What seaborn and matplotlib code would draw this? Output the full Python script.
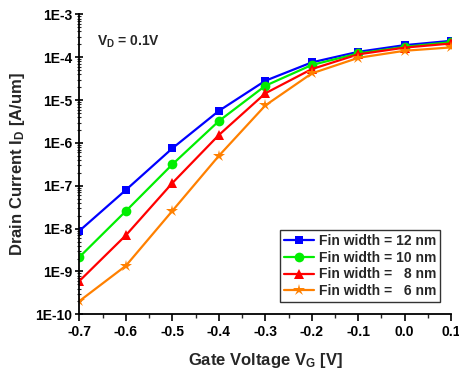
import numpy as np
import pandas as pd
import matplotlib
matplotlib.use("Agg")
import matplotlib.pyplot as plt
import matplotlib.ticker as mticker
import seaborn as sns

# ---- data ----
vg = [-0.7, -0.6, -0.5, -0.4, -0.3, -0.2, -0.1, 0.0, 0.1]
id_12nm = [8.9e-9, 8.0e-8, 7.5e-7, 5.6e-6, 2.83e-5, 7.6e-5, 1.34e-4, 1.92e-4, 2.42e-4]
id_10nm = [2.17e-9, 2.57e-8, 3.16e-7, 3.24e-6, 2.16e-5, 6.6e-5, 1.23e-4, 1.75e-4, 2.26e-4]
id_8nm = [6.0e-10, 7.0e-9, 1.16e-7, 1.53e-6, 1.44e-5, 5.3e-5, 1.17e-4, 1.68e-4, 2.1e-4]
id_6nm = [2.04e-10, 1.36e-9, 2.6e-8, 5.0e-7, 7.5e-6, 4.2e-5, 9.7e-5, 1.42e-4, 1.7e-4]
series_labels = ["Fin width = 12 nm", "Fin width = 10 nm",
                 "Fin width =   8 nm", "Fin width =   6 nm"]
y_tick_vals = [1e-10, 1e-9, 1e-8, 1e-7, 1e-6, 1e-5, 1e-4, 1e-3]
y_tick_labels = ["1E-10", "1E-9", "1E-8", "1E-7", "1E-6", "1E-5", "1E-4", "1E-3"]
x_tick_vals = [-0.7, -0.6, -0.5, -0.4, -0.3, -0.2, -0.1, 0.0, 0.1]
x_tick_labels = ["-0.7", "-0.6", "-0.5", "-0.4", "-0.3", "-0.2", "-0.1", "0.0", "0.1"]

rows = []
for lab, vals in zip(series_labels, [id_12nm, id_10nm, id_8nm, id_6nm]):
    for x, y in zip(vg, vals):
        rows.append({"VG": x, "ID": y, "series": lab})
df = pd.DataFrame(rows)

sns.set_theme(style="ticks")
plt.rcParams["font.family"] = ["Liberation Sans", "DejaVu Sans"]
plt.rcParams["font.weight"] = "bold"
plt.rcParams["mathtext.fontset"] = "custom"
plt.rcParams["mathtext.rm"] = "Liberation Sans:bold"
plt.rcParams["mathtext.it"] = "Liberation Sans:bold"
plt.rcParams["mathtext.bf"] = "Liberation Sans:bold"

colors = ["#0000FF", "#00EE00", "#FF0000", "#FF8000"]
markers = ["s", "o", "^", "*"]
msizes = [6, 7, 7.5, 9]

fig = plt.figure(figsize=(4.59, 3.70), dpi=100)
ax = fig.add_axes([0.173, 0.1505, 0.810, 0.8105])

sns.lineplot(data=df, x="VG", y="ID", hue="series", style="series",
             hue_order=series_labels, style_order=series_labels,
             palette=colors, markers=markers, dashes=False,
             estimator=None, sort=False, linewidth=1.6, markeredgewidth=0,
             legend=False, ax=ax)
for line, ms in zip(ax.lines, msizes):
    line.set_markersize(ms)

ax.set_yscale("log")
ax.set_ylim(1e-10, 1e-3)
ax.set_xlim(-0.7, 0.1)
ax.set_yticks(y_tick_vals)
ax.yaxis.set_major_formatter(mticker.FixedFormatter(y_tick_labels))
ax.yaxis.set_minor_locator(mticker.LogLocator(base=10, subs=np.arange(2, 10)))
ax.yaxis.set_minor_formatter(mticker.NullFormatter())
ax.set_xticks(x_tick_vals)
ax.set_xticklabels(x_tick_labels)
ax.xaxis.set_minor_locator(mticker.MultipleLocator(0.05))

ax.tick_params(axis="y", which="major", direction="inout", length=6, width=1.2,
               labelsize=10, pad=2, colors="black")
ax.tick_params(axis="y", which="minor", direction="inout", length=3, width=0.8)
ax.tick_params(axis="x", which="major", direction="out", length=5, width=1.2,
               labelsize=10, pad=3, colors="black")
ax.tick_params(axis="x", which="minor", direction="out", length=3, width=1.0)
for lab in ax.get_xticklabels() + ax.get_yticklabels():
    lab.set_fontweight("bold")

sns.despine(ax=ax)
for s in ["left", "bottom"]:
    ax.spines[s].set_linewidth(1.3)
    ax.spines[s].set_color("black")

ax.set_xlabel("Gate Voltage V$_{\\mathrm{G}}$ [V]", fontsize=12, fontweight="bold", labelpad=8)
ax.set_ylabel("Drain Current I$_{\\mathrm{D}}$ [A/um]", fontsize=12, fontweight="bold", labelpad=6)

ax.text(0.047, 0.895, "V$_{\\mathrm{D}}$ = 0.1V", transform=ax.transAxes,
        fontsize=10, fontweight="bold", va="baseline", ha="left")

leg = ax.legend(handles=ax.lines, labels=series_labels, loc="lower right",
                bbox_to_anchor=(0.97, 0.04), borderaxespad=0, frameon=True,
                fancybox=False, edgecolor="black", handlelength=2.2,
                handletextpad=0.3, borderpad=0.3, labelspacing=0.2,
                prop={"weight": "bold", "size": 10})
leg.get_frame().set_linewidth(1.0)

fig.savefig("out.png", dpi=100)
